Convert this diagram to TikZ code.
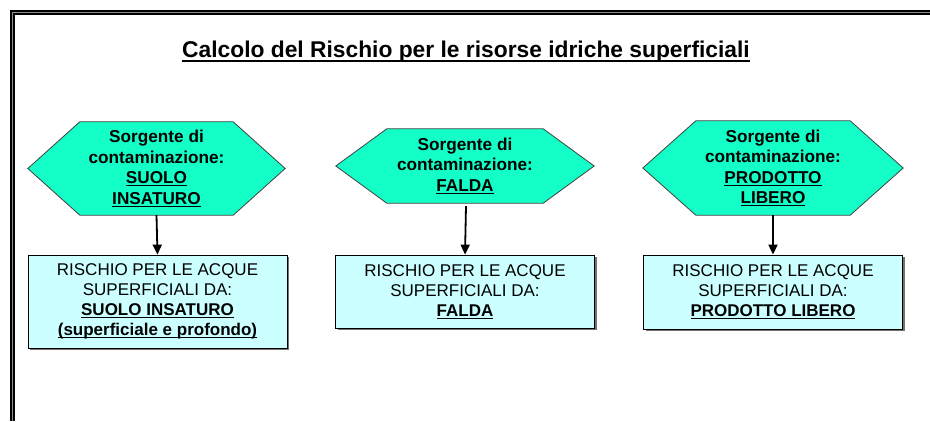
\documentclass[tikz,border=0pt]{standalone}
\usepackage{fontspec}
\setmainfont{Liberation Sans}
\usetikzlibrary{arrows.meta,backgrounds,calc,shadows}
\newsavebox\ulbox
\newcommand\ulw[1]{\sbox\ulbox{#1}\rlap{\rule[-2.8pt]{\wd\ulbox}{1.3pt}}\usebox\ulbox}
\newcommand\ulttl[1]{\sbox\ulbox{#1}\rlap{\rule[-4.6pt]{\wd\ulbox}{2pt}}\usebox\ulbox}
\definecolor{hexfill}{RGB}{20,255,200}
\definecolor{boxfill}{RGB}{204,255,255}
\tikzset{
  hexcore/.style={minimum width=#1, inner sep=0pt, align=center, font=\fontsize{17.2}{20.5}\selectfont\bfseries},
  hexline/.style={fill=hexfill, draw=black!75, line width=0.8pt},
  riskbox/.style={draw=black, line width=0.8pt, fill=boxfill, minimum width=259pt, inner sep=0pt, align=center,
     font=\fontsize{17}{20}\selectfont, drop shadow={shadow xshift=2pt, shadow yshift=-2pt, fill=black!55, opacity=1}},
  conn/.style={-{Triangle[length=10pt,width=9pt]}, line width=1.8pt},
}
\begin{document}
\begin{tikzpicture}[x=1pt,y=-1pt]
\useasboundingbox (0,0) rectangle (930,421);
% frame
\draw[line width=5.5pt, black] (930,12.5) -- (12.5,12.5) -- (12.5,421);
\draw[line width=0.8pt, black!45] (930,12.5) -- (12.5,12.5) -- (12.5,421);
% title
\node[anchor=base, font=\fontsize{22.8}{26}\selectfont\bfseries] (title) at (466,57) {\ulttl{Calcolo del Rischio per le risorse idriche superficiali}};
% hexagons
\node[hexcore=153pt, minimum height=93pt] (h1) at (156.5,168.5) {Sorgente di\\contaminazione:\\\ulw{SUOLO}\\\ulw{INSATURO}};
\node[hexcore=156pt, minimum height=74pt] (h2) at (465,166) {Sorgente di\\contaminazione:\\\ulw{FALDA}};
\node[hexcore=154pt, minimum height=94pt] (h3) at (773,168) {Sorgente di\\contaminazione:\\\ulw{PRODOTTO}\\\ulw{LIBERO}};
\begin{pgfonlayer}{background}
\fill[white] (0,0) rectangle (930,421);
\foreach \h/\d in {h1/52, h2/51, h3/53}{
  \draw[hexline] (\h.north west) -- (\h.north east) -- ($(\h.east)+(\d,0)$) -- (\h.south east) -- (\h.south west) -- ($(\h.west)+(-\d,0)$) -- cycle;
}
\end{pgfonlayer}
% boxes
\node[riskbox, minimum height=93pt] (b1) at (157.5,301.5) {RISCHIO PER LE ACQUE\\SUPERFICIALI DA:\\\textbf{\ulw{SUOLO INSATURO}}\\\textbf{\ulw{(superficiale e profondo)}}};
\node[riskbox, minimum height=73pt] (b2) at (465,291.5) {RISCHIO PER LE ACQUE\\SUPERFICIALI DA:\\\textbf{\ulw{FALDA}}};
\node[riskbox, minimum height=74pt] (b3) at (773,292) {RISCHIO PER LE ACQUE\\SUPERFICIALI DA:\\\textbf{\ulw{PRODOTTO LIBERO}}};
% connectors
\draw[conn] (h1.south) -- (b1.north);
\draw[conn] ($(h2.south)+(1,3)$) -- (b2.north);
\draw[conn] (h3.south) -- (b3.north);
\end{tikzpicture}
\end{document}
